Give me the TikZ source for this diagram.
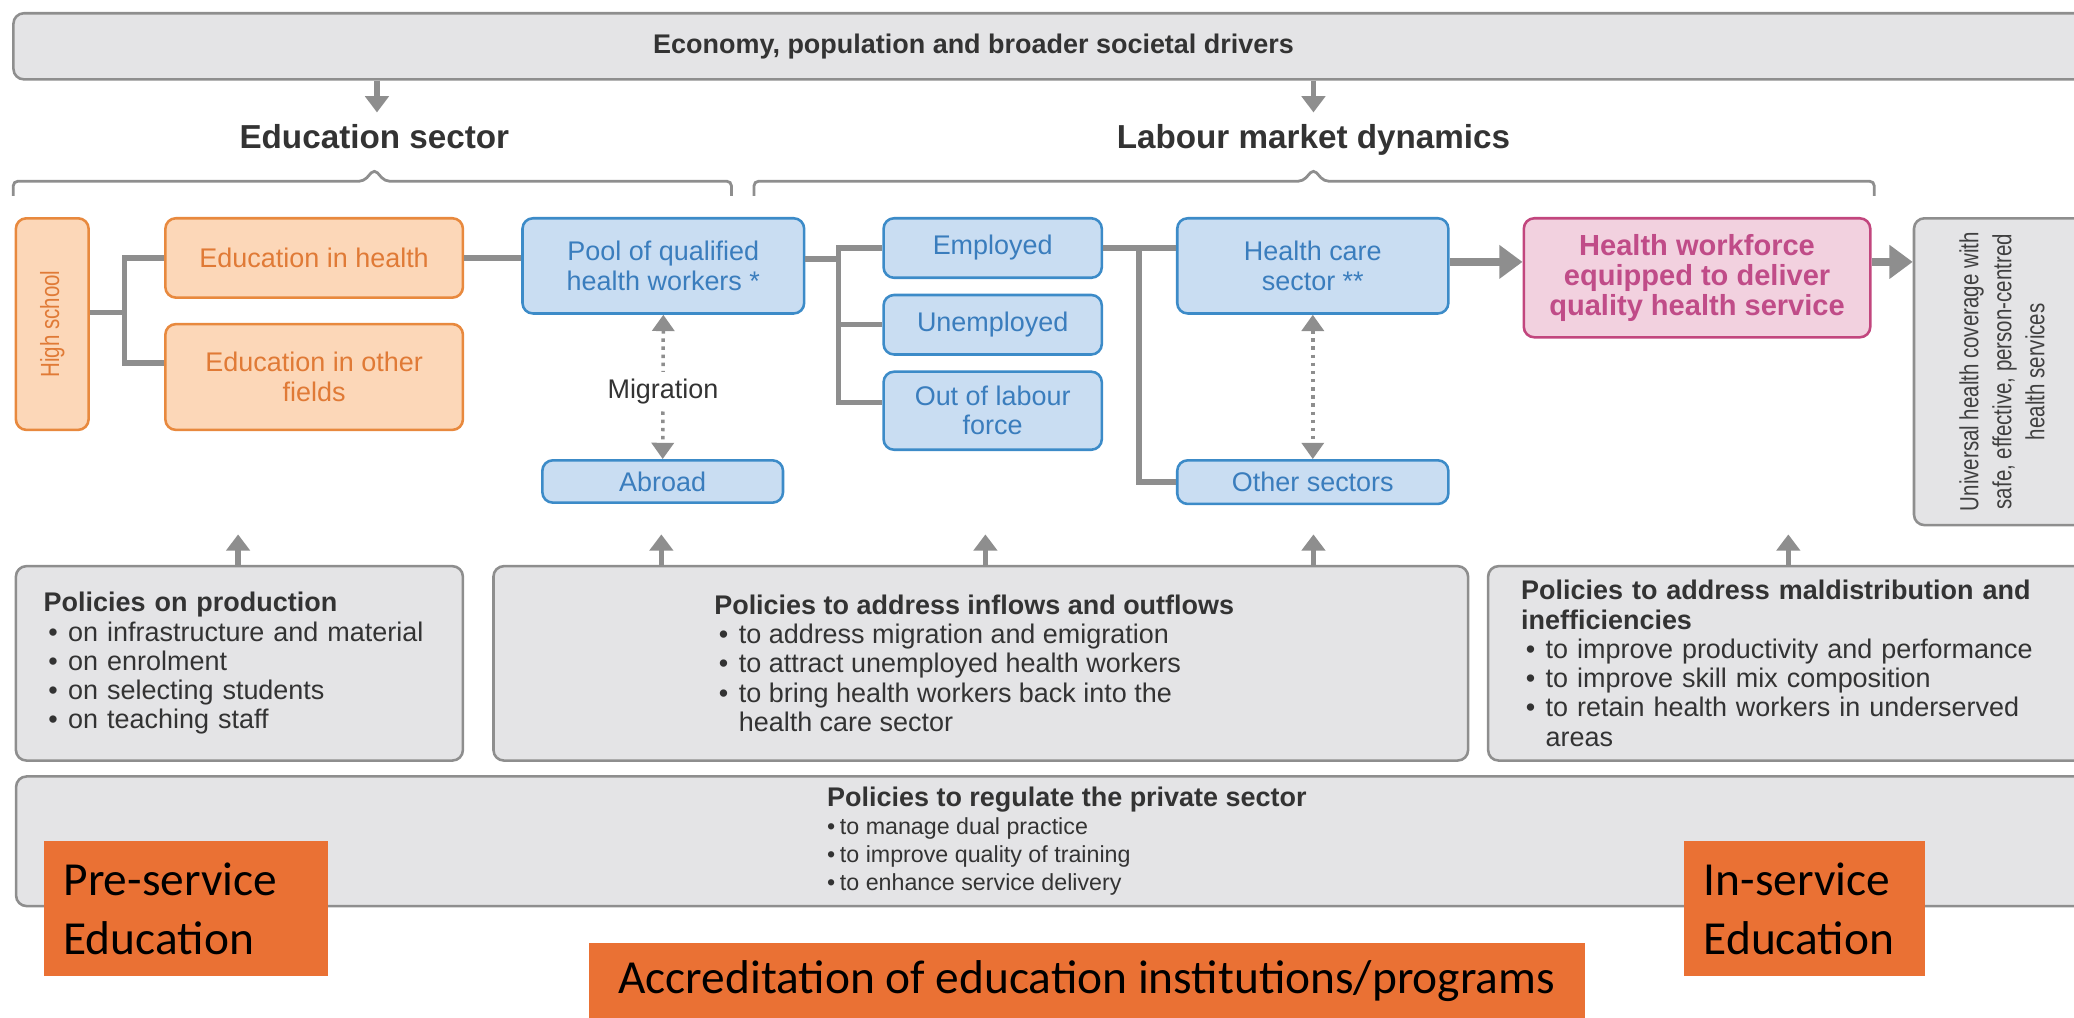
\documentclass[tikz,border=0pt]{standalone}
\usepackage{fontspec}
\setmainfont{Liberation Sans}
\newfontfamily\narrowfont{Liberation Sans}[FakeStretch=0.78]
\newfontfamily\calfont{Carlito}
\usetikzlibrary{arrows.meta}

\definecolor{boxgray}{HTML}{E4E4E6}
\definecolor{linegray}{HTML}{8E8E8E}
\definecolor{txtgray}{HTML}{333333}
\definecolor{orfill}{HTML}{FCD7B8}
\definecolor{ordraw}{HTML}{E8893E}
\definecolor{ortext}{HTML}{E07A36}
\definecolor{blfill}{HTML}{C9DDF2}
\definecolor{bldraw}{HTML}{3C8BC8}
\definecolor{bltext}{HTML}{3A7DBD}
\definecolor{pkfill}{HTML}{F2D1DF}
\definecolor{pkdraw}{HTML}{C2467E}
\definecolor{pktext}{HTML}{C04C88}
\definecolor{laborange}{HTML}{EA7134}

\newcommand{\bul}{\hspace*{2pt}\textbullet\hspace{4.5pt}}
\newcommand{\nobul}{\hspace*{2pt}\phantom{\textbullet}\hspace{4.5pt}}

\begin{document}
\begin{tikzpicture}[x=0.02cm,y=-0.02cm,
    box/.style={rounded corners=4.5pt,line width=1.1pt,inner sep=0pt,align=center,
      font=\fontsize{11.6}{12.6}\selectfont},
    edubox/.style={box,fill=orfill,draw=ordraw,text=ortext},
    wkbox/.style={box,fill=blfill,draw=bldraw,text=bltext},
    hwbox/.style={box,fill=pkfill,draw=pkdraw,text=pktext,
      font=\fontsize{12.5}{12.8}\selectfont\bfseries},
    polbox/.style={box,fill=boxgray,draw=linegray,text=txtgray},
    head/.style={text=txtgray,anchor=base,font=\fontsize{14.3}{16}\selectfont\bfseries},
    conn/.style={draw=linegray,line width=2.3pt},
    arr/.style={conn,-{Triangle[width=10pt,length=7pt]}},
    bigarr/.style={draw=linegray,line width=3.4pt,-{Triangle[width=14pt,length=10pt]}},
    dots/.style={draw=linegray,line width=1.5pt,dotted,
      {Triangle[width=9.5pt,length=7pt]}-{Triangle[width=9.5pt,length=7pt]}},
    brk/.style={draw=linegray,line width=1.2pt,rounded corners=2pt},
    lab/.style={fill=laborange,text=black,inner sep=0pt,
      font=\calfont\fontsize{20.4}{25.5}\selectfont}]
  \useasboundingbox (0,0) rectangle (1568,769);

  \node[polbox,minimum width=31.8cm,minimum height=1cm] (top) at (805,35) {};
  \node[text=txtgray,font=\fontsize{11.6}{12.6}\selectfont\bfseries] (toptext) at (736,35)
    {Economy, population and broader societal drivers};

  \node[head] (edusec) at (283,112) {Education sector};
  \node[head] (labsec) at (993,112) {Labour market dynamics};
  \coordinate (edutip) at (285,85);
  \coordinate (labtip) at (993,85);
  \draw[arr] (top.south -| edutip) -- (edutip);
  \draw[arr] (top.south -| labtip) -- (labtip);

  \draw[brk] (10,148) |- (275,137) -- (283,128) -- (291,137) -| (553,148);
  \draw[brk] (570,148) |- (985,137) -- (993,128) -- (1001,137) -| (1417,148);

  \node[edubox,rotate=90,minimum width=3.2cm,minimum height=1.1cm,
    font=\narrowfont\fontsize{11.3}{12.6}\selectfont] (hs) at (39.5,245) {High school};
  \node[edubox,minimum width=4.5cm,minimum height=1.2cm] (eduh) at (237.5,195) {Education in health};
  \node[edubox,minimum width=4.5cm,minimum height=1.6cm] (eduo) at (237.5,285) {Education in other\\fields};
  \node[wkbox,minimum width=4.26cm,minimum height=1.44cm] (pool) at (501.5,201) {Pool of qualified\\health workers *};
  \node[wkbox,minimum width=3.64cm,minimum height=0.64cm] (abroad) at (501,364) {Abroad};
  \node[wkbox,minimum width=3.3cm,minimum height=0.9cm] (emp) at (750.5,187.5) {Employed};
  \node[wkbox,minimum width=3.3cm,minimum height=0.9cm] (unemp) at (750.5,245.5) {Unemployed};
  \node[wkbox,minimum width=3.3cm,minimum height=1.18cm] (olf) at (750.5,310.5) {Out of labour\\force};
  \node[wkbox,minimum width=4.1cm,minimum height=1.44cm] (hcs) at (992.5,201) {Health care\\sector **};
  \node[wkbox,minimum width=4.1cm,minimum height=0.66cm] (other) at (992.5,364.5) {Other sectors};
  \node[hwbox,minimum width=5.24cm,minimum height=1.8cm] (hwf) at (1283,210)
    {Health workforce\\equipped to deliver\\quality health service};
  \node[polbox,rotate=90,minimum width=4.64cm,minimum height=2.66cm,text=black!75,
    font=\narrowfont\fontsize{11.3}{14.2}\selectfont] (uhc) at (1513.5,281)
    {Universal health coverage with\\safe, effective, person-centred\\health services};

  \draw[conn] ([yshift=5pt]hs.south) -- ++(26,0) |- (eduh.west);
  \draw[conn] ([yshift=5pt]hs.south) -- ++(26,0) |- ([yshift=6pt]eduo.west);
  \draw[conn] (eduh.east) -- (eduh.east -| pool.west);
  \coordinate (bar) at (634,0);
  \coordinate (barb) at (861,0);
  \draw[conn] ([yshift=3pt]pool.east) -- ([yshift=3pt]pool.east -| bar);
  \draw[conn] (emp.west) -- (emp.west -| bar) |- ([yshift=3.5pt]olf.west);
  \draw[conn] (unemp.west) -- (unemp.west -| bar);
  \draw[conn] (emp.east) -- (emp.east -| hcs.west);
  \draw[conn] (emp.east -| barb) |- (other.west);
  \draw[bigarr] (hcs.east |- 0,198) -- (hwf.west |- 0,198);
  \draw[bigarr] (hwf.east |- 0,198) -- (uhc.north |- 0,198);
  \draw[dots] (pool.south) -- node[pos=0.53,fill=white,text=txtgray,inner xsep=0pt,inner ysep=3pt,
    font=\fontsize{11.6}{12.6}\selectfont] (mig) {Migration} (abroad.north);
  \draw[dots] (hcs.south) -- (other.north);

  \node[polbox,minimum width=6.76cm,minimum height=2.94cm,text width=5.92cm,inner xsep=0.42cm,align=left] (prod) at (181,501.5)
    {\textbf{Policies on production}\\
     \bul on infrastructure and material\\
     \bul on enrolment\\
     \bul on selecting students\\
     \bul on teaching staff};
  \node[polbox,minimum width=14.74cm,minimum height=2.94cm,align=left] (flow) at (741.5,501.5)
    {\textbf{Policies to address inflows and outflows}\hspace*{0.2cm}\\
     \bul to address migration and emigration\\
     \bul to attract unemployed health workers\\
     \bul to bring health workers back into the\\
     \nobul health care sector};
  \node[polbox,minimum width=9.1cm,minimum height=2.94cm,text width=8.1cm,inner xsep=0.5cm,align=left] (mald) at (1352.5,501.5)
    {\textbf{Policies to address maldistribution and}\\
     \textbf{inefficiencies}\\
     \bul to improve productivity and performance\\
     \bul to improve skill mix composition\\
     \bul to retain health workers in underserved\\
     \nobul areas};
  \coordinate (upa) at (180,404);
  \coordinate (upb) at (500,404);
  \coordinate (upc) at (745,404);
  \coordinate (upd) at (993,404);
  \coordinate (upe) at (1352,404);
  \draw[arr] (prod.north -| upa) -- (upa);
  \draw[arr] (flow.north -| upb) -- (upb);
  \draw[arr] (flow.north -| upc) -- (upc);
  \draw[arr] (flow.north -| upd) -- (upd);
  \draw[arr] (mald.north -| upe) -- (upe);

  \node[polbox,minimum width=31.36cm,minimum height=1.96cm] (reg) at (796,636) {};
  \node[anchor=west,align=left,text=txtgray,inner sep=0pt,
    font=\fontsize{10}{12}\selectfont] (regtext) at (625,636)
    {{\fontsize{11.6}{12}\selectfont\bfseries Policies to regulate the private sector}\\
     \textbullet\hspace{2pt}to manage dual practice\\
     \textbullet\hspace{2pt}to improve quality of training\\
     \textbullet\hspace{2pt}to enhance service delivery};

  \node[lab,minimum width=4.3cm,minimum height=2.04cm,text width=3.7cm,inner xsep=0.3cm,align=left] (pre) at (140.5,687)
    {Pre-service\\Education};
  \node[lab,minimum width=3.64cm,minimum height=2.04cm,text width=3.04cm,inner xsep=0.3cm,align=left] (ins) at (1364,687)
    {In-service\\Education};
  \node[lab,minimum width=15.06cm,minimum height=1.16cm] (acc) at (821.5,742)
    {Accreditation of education institutions/programs};
\end{tikzpicture}
\end{document}
